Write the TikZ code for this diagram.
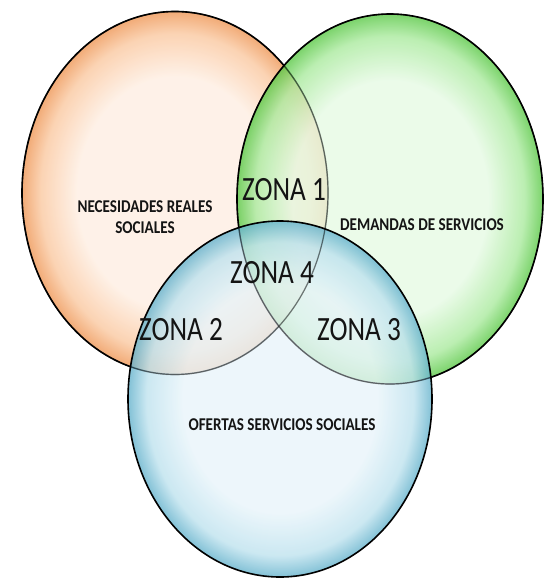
\documentclass[tikz,border=0pt]{standalone}
\usepackage{fontspec}
\usepackage{tikz}
\usetikzlibrary{shapes.geometric}
\setmainfont{Carlito}
\newfontfamily\zonafont[FakeStretch=0.8]{Carlito}
\newfontfamily\etiquetafont[FakeStretch=0.84]{Carlito}

\definecolor{naranjaClaro}{RGB}{254,238,226}
\definecolor{naranjaMedio}{RGB}{250,200,160}
\definecolor{naranjaOscuro}{RGB}{238,150,85}
\definecolor{verdeClaro}{RGB}{230,250,228}
\definecolor{verdeMedio}{RGB}{170,234,158}
\definecolor{verdeOscuro}{RGB}{90,200,70}
\definecolor{azulClaro}{RGB}{232,244,250}
\definecolor{azulMedio}{RGB}{190,226,238}
\definecolor{azulOscuro}{RGB}{100,178,204}
\definecolor{texto}{RGB}{20,20,20}

\pgfdeclareradialshading{orbNaranja}{\pgfpoint{0bp}{0bp}}{color(0bp)=(naranjaClaro);color(16bp)=(naranjaClaro);color(22bp)=(naranjaMedio);color(25bp)=(naranjaOscuro);color(50bp)=(naranjaOscuro)}
\pgfdeclareradialshading{orbVerde}{\pgfpoint{0bp}{0bp}}{color(0bp)=(verdeClaro);color(16bp)=(verdeClaro);color(22bp)=(verdeMedio);color(25bp)=(verdeOscuro);color(50bp)=(verdeOscuro)}
\pgfdeclareradialshading{orbAzul}{\pgfpoint{0bp}{0bp}}{color(0bp)=(azulClaro);color(16bp)=(azulClaro);color(22bp)=(azulMedio);color(25bp)=(azulOscuro);color(50bp)=(azulOscuro)}

\tikzset{%
% Specifications for style of nodes:
conjunto/.style = {ellipse, draw=black, line width=1.6pt, inner sep=0pt, fill opacity=0.8},
borde/.style = {draw=black, line width=1.2pt, opacity=0.5},
zona/.style = {font=\zonafont\fontsize{34}{40}\selectfont, text=texto},
etiqueta/.style = {font=\etiquetafont\bfseries\fontsize{18}{21.6}\selectfont, text=texto, align=center},
}

\begin{document}
\begin{tikzpicture}[x=1pt, y=-1pt]
        \useasboundingbox (0,0) rectangle (546,580);
        % Sets (position, size, shading)
        \node (necesidades) [conjunto, shading=orbNaranja, minimum width=306pt, minimum height=363pt] at (175,193) {};
        \node (demandas) [conjunto, shading=orbVerde, minimum width=306pt, minimum height=370pt] at (390,199) {};
        \node (ofertas) [conjunto, shading=orbAzul, minimum width=304pt, minimum height=356pt] at (280,399) {};
        % Edges seen through the overlaps
        \draw [borde] (necesidades.center) ellipse [x radius=153, y radius=181.5];
        \draw [borde] (demandas.center) ellipse [x radius=153, y radius=185];
        % Labels of the sets
        \node (txtNecesidades) [etiqueta] at (145,217) {NECESIDADES REALES\\SOCIALES};
        \node (txtDemandas) [etiqueta] at (422,225) {DEMANDAS DE SERVICIOS};
        \node (txtOfertas) [etiqueta] at (282,425) {OFERTAS SERVICIOS SOCIALES};
        % Zones
        \node (zona1) [zona] at (284,190) {ZONA 1};
        \node (zona4) [zona] at (272,273) {ZONA 4};
        \node (zona2) [zona] at (181,330) {ZONA 2};
        \node (zona3) [zona] at (359,330) {ZONA 3};
    \end{tikzpicture}
\end{document}
